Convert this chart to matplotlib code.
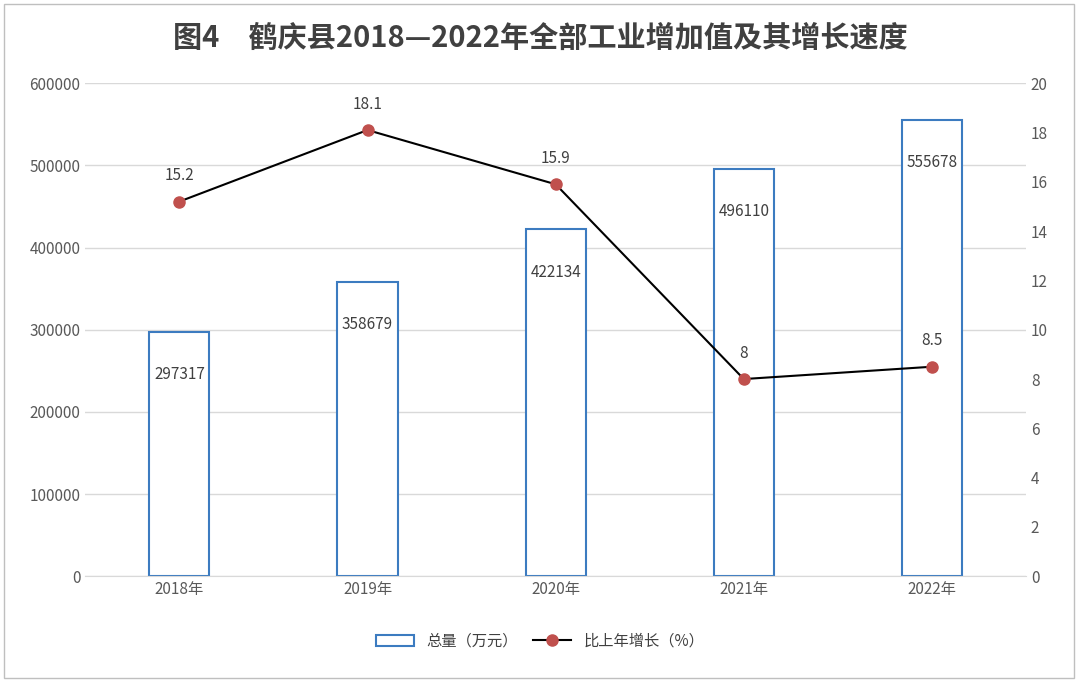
import matplotlib.pyplot as plt
from matplotlib.patches import Rectangle

plt.rcParams['font.family'] = ['Noto Sans CJK SC', 'DejaVu Sans']

years = ['2018年', '2019年', '2020年', '2021年', '2022年']
totals = [297317, 358679, 422134, 496110, 555678]
growth = [15.2, 18.1, 15.9, 8, 8.5]
growth_labels = ['15.2', '18.1', '15.9', '8', '8.5']

fig = plt.figure(figsize=(10.8, 6.82), dpi=100)
fig.patches.append(Rectangle((0.004, 0.006), 0.99, 0.988, transform=fig.transFigure,
                             fill=False, edgecolor='#bfbfbf', linewidth=1.0))
ax = fig.add_axes([0.079, 0.155, 0.871, 0.723])
x = list(range(len(years)))

ax.bar(x, totals, width=0.32, facecolor='white', edgecolor='#3c7bc0', linewidth=1.5,
       label='总量（万元）', zorder=2)
for xi, v in zip(x, totals):
    ax.text(xi, v - 52000, str(v), ha='center', va='center', fontsize=11, color='#404040', zorder=3)

ax.set_ylim(0, 600000)
ax.set_yticks(range(0, 600001, 100000))
ax.set_xlim(-0.5, 4.5)
ax.set_xticks(x)
ax.set_xticklabels(years)
ax.grid(axis='y', color='#d9d9d9', linewidth=1, zorder=0)
ax.set_axisbelow(True)
for s in ['top', 'right', 'left']:
    ax.spines[s].set_visible(False)
ax.spines['bottom'].set_color('#d9d9d9')
ax.tick_params(length=0, labelsize=11, colors='#595959')

ax2 = ax.twinx()
ax2.plot(x, growth, color='black', linewidth=1.5, marker='o', markersize=8,
         markerfacecolor='#c0504d', markeredgecolor='#c0504d', label='比上年增长（%）', zorder=4)
for xi, g, t in zip(x, growth, growth_labels):
    ax2.text(xi, g + 0.7, t, ha='center', va='bottom', fontsize=11, color='#404040')
ax2.set_ylim(0, 20)
ax2.set_yticks(range(0, 21, 2))
for s in ['top', 'right', 'left', 'bottom']:
    ax2.spines[s].set_visible(False)
ax2.tick_params(length=0, labelsize=11, colors='#595959')

h1, l1 = ax.get_legend_handles_labels()
h2, l2 = ax2.get_legend_handles_labels()
fig.legend(h1 + h2, l1 + l2, loc='center', bbox_to_anchor=(0.5, 0.06), ncol=2,
           frameon=False, fontsize=11, labelcolor='#404040', handlelength=2.5, columnspacing=1.0)

fig.text(0.5, 0.945, '图4　鹤庆县2018—2022年全部工业增加值及其增长速度', ha='center', va='center',
         fontsize=21, fontweight='bold', color='#404040')

fig.savefig('out.png', dpi=100)
